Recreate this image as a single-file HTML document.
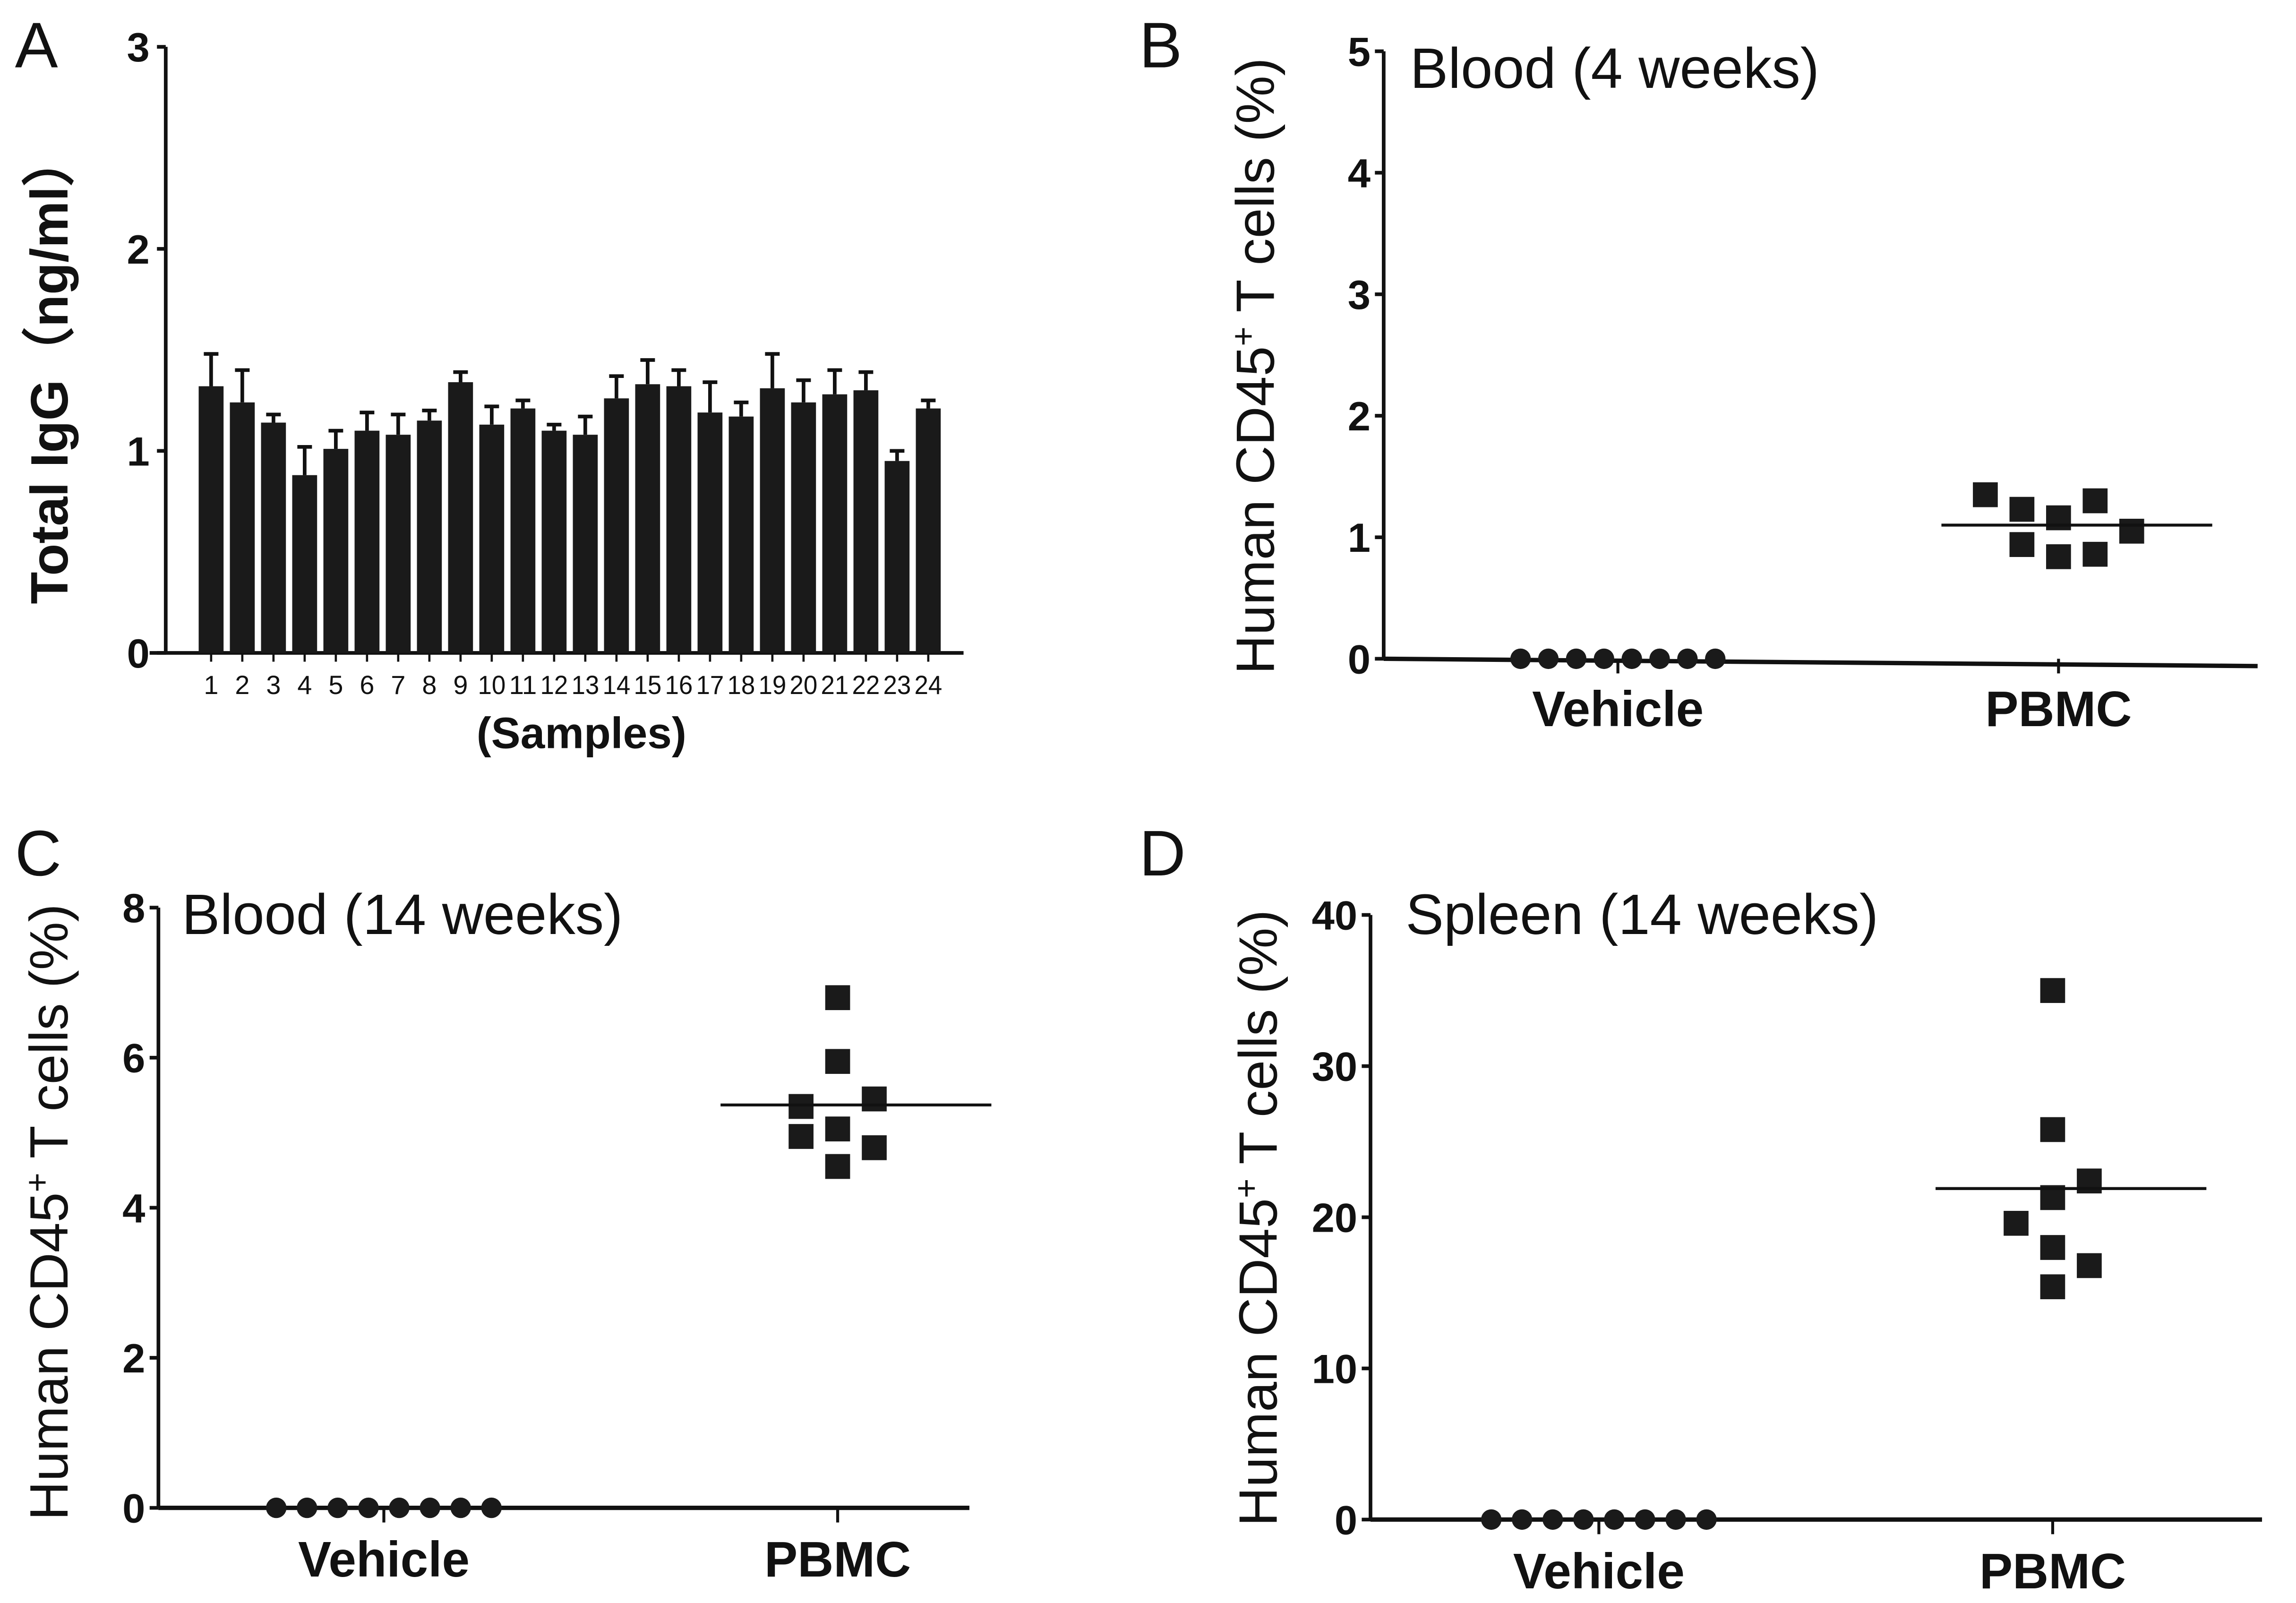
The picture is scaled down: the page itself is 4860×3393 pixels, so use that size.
<!DOCTYPE html>
<html><head><meta charset="utf-8"><style>
html,body{margin:0;padding:0;background:#fff;}
svg{display:block;font-family:"Liberation Sans",sans-serif;}
</style></head><body>
<svg id="fig" width="4860" height="3393" viewBox="0 0 1568 1095" xmlns="http://www.w3.org/2000/svg"></svg>
<script>
// Panel A data
const aSamples = ["1","2","3","4","5","6","7","8","9","10","11","12","13","14","15","16","17","18","19","20","21","22","23","24"];
const aMeans = [1.32,1.24,1.14,0.88,1.01,1.10,1.08,1.15,1.34,1.13,1.21,1.10,1.08,1.26,1.33,1.32,1.19,1.17,1.31,1.24,1.28,1.30,0.95,1.21];
const aErrTop = [1.48,1.40,1.18,1.02,1.10,1.19,1.18,1.20,1.39,1.22,1.25,1.13,1.17,1.37,1.45,1.40,1.34,1.24,1.48,1.35,1.40,1.39,1.00,1.25];
const aTicks = [0,1,2,3];
// Panel B data
const bVehicle = [0,0,0,0,0,0,0,0];
const bPBMC = [1.35,1.23,1.16,1.30,1.05,0.94,0.84,0.86];
const bCols = [-2,-1,0,1,2,-1,0,1];
const bMedian = 1.10;
const bTicks = [0,1,2,3,4,5];
// Panel C data
const cVehicle = [0,0,0,0,0,0,0,0];
const cPBMC = [6.8,5.95,5.35,4.95,5.45,5.05,4.55,4.8];
const cCols = [0,0,-1,-1,1,0,0,1];
const cMedian = 5.37;
const cTicks = [0,2,4,6,8];
// Panel D data
const dVehicle = [0,0,0,0,0,0,0,0];
const dPBMC = [35,25.8,22.4,21.3,19.6,18.0,16.8,15.4];
const dCols = [0,0,1,0,-1,0,1,0];
const dMedian = 21.9;
const dTicks = [0,10,20,30,40];
const groups = ["Vehicle","PBMC"];

const NS="http://www.w3.org/2000/svg";
const svg=document.getElementById('fig');
function el(tag,attrs,parent,text){const e=document.createElementNS(NS,tag);for(const k in attrs)e.setAttribute(k,attrs[k]);if(text!==undefined)e.textContent=text;(parent||svg).appendChild(e);return e;}

function txt(x,y,s,size,weight,anchor,name,parent,rot){
  const t=el('text',{x:x,y:y,'font-size':size,'font-weight':weight,'text-anchor':anchor,fill:'#111'},parent,s);
  if(rot) t.setAttribute('transform','rotate(-90 '+x+' '+y+')');
  
  
  return t;
}

// Panel A
(function(){
  const g=el('g',{});
  
  
  const x0=113,y0=446,yTop=32,vmax=3;
  const Y=v=>y0-(y0-yTop)*v/vmax;
  const X=i=>144+i*21.3;
  txt(10,46,'A',44,'normal','start','panel-label-a',g);
  const ax=el('path',{d:`M${x0},${yTop} V${y0}`,stroke:'#111','stroke-width':2.5,fill:'none'},g);
  
  const xa=el('path',{d:`M102,${y0} H658`,stroke:'#111','stroke-width':2.5},g);
  
  aTicks.forEach(v=>{
    el('path',{d:`M${x0-6},${Y(v)} H${x0}`,stroke:'#111','stroke-width':2.5},g);
    txt(x0-11,Y(v)+10,String(v),28,'bold','end','y-tick-label',g);
  });
  aMeans.forEach((m,i)=>{
    const cx=X(i);
    const e=el('path',{d:`M${cx},${Y(m)} V${Y(aErrTop[i])} M${cx-5},${Y(aErrTop[i])} H${cx+5}`,stroke:'#111','stroke-width':2.5,fill:'none'},g);
    
    const b=el('rect',{x:cx-8.5,y:Y(m),width:17,height:y0-Y(m),fill:'#1a1a1a'},g);
    
    el('path',{d:`M${cx},${y0} V${y0+6}`,stroke:'#111','stroke-width':1.5},g);
    const t=txt(cx,y0+28,aSamples[i],18,'normal','middle','x-tick-label',g);
    if(aSamples[i].length>1){t.setAttribute('textLength',19);t.setAttribute('lengthAdjust','spacingAndGlyphs');}
  });
  txt(397,511,'(Samples)',30,'bold','middle','x-axis-title',g);
  txt(46,252,'Total IgG（ng/ml）',36,'bold','middle','y-axis-title',g,true);
})();

function scatter(opts){
  const g=el('g',{});
  
  
  const {x0,y0,yTop,vmax,xEnd,vehX,pbX}=opts;
  const Y=v=>y0-(y0-yTop)*v/vmax;
  txt(opts.lx,opts.ly,opts.letter,44,'normal','start','panel-label-'+opts.letter.toLowerCase(),g);
  const ya=el('path',{d:`M${x0},${yTop} V${y0}`,stroke:'#111','stroke-width':2.5,fill:'none'},g);
  
  const xa=el('path',{d:`M${x0},${y0} L${xEnd},${y0+opts.slope}`,stroke:'#111','stroke-width':3},g);
  
  opts.ticks.forEach(v=>{
    el('path',{d:`M${x0-6},${Y(v)} H${x0}`,stroke:'#111','stroke-width':2.5},g);
    txt(x0-9,Y(v)+10,String(v),28,'bold','end','y-tick-label',g);
  });
  [vehX,pbX].forEach((cx,i)=>{
    el('path',{d:`M${cx},${y0} V${y0+10}`,stroke:'#111','stroke-width':2},g);
    txt(cx,opts.catY,groups[i],34,'bold','middle','x-category-label',g);
  });
  txt(opts.tx,opts.ty,opts.title,39,'normal','start','chart-title',g);
  txt(opts.yx,opts.yy,'Human CD45',37,'normal','middle','y-axis-title',g,true).innerHTML='Human CD45<tspan font-size="23" dy="-13">+</tspan><tspan dy="13"> T cells (%)</tspan>';
  opts.veh.forEach((v,i)=>{
    const cx=vehX+(i-3.5)*opts.vstep;
    const c=el('circle',{cx:cx,cy:Y(v),r:7,fill:'#1a1a1a'},g);
    
  });
  opts.pb.forEach((v,i)=>{
    const cx=pbX+opts.cols[i]*25;
    const s=el('rect',{x:cx-8.5,y:Y(v)-8.5,width:17,height:17,fill:'#1a1a1a'},g);
    
  });
  const m=el('path',{d:`M${pbX-80},${Y(opts.median)} H${pbX+105}`,stroke:'#111','stroke-width':2},g);
  
}

scatter({name:'panel-b',letter:'B',lx:778,ly:46,x0:945,y0:450,yTop:35,vmax:5,xEnd:1542,slope:5,vehX:1105,pbX:1406,
  ticks:bTicks,catY:496,tx:963,ty:60,title:'Blood (4 weeks)',yx:870,yy:250,veh:bVehicle,vstep:19,pb:bPBMC,cols:bCols,median:bMedian});
scatter({name:'panel-c',letter:'C',lx:10,ly:598,x0:108,y0:1030,yTop:620,vmax:8,xEnd:662,slope:0,vehX:262,pbX:572,
  ticks:cTicks,catY:1077,tx:124,ty:638,title:'Blood (14 weeks)',yx:46,yy:828,veh:cVehicle,vstep:21,pb:cPBMC,cols:cCols,median:cMedian});
scatter({name:'panel-d',letter:'D',lx:778,ly:598,x0:936,y0:1038,yTop:625,vmax:40,xEnd:1545,slope:0,vehX:1092,pbX:1402,
  ticks:dTicks,catY:1085,tx:960,ty:638,title:'Spleen (14 weeks)',yx:872,yy:832,veh:dVehicle,vstep:21,pb:dPBMC,cols:dCols,median:dMedian});
</script>
</body></html>
